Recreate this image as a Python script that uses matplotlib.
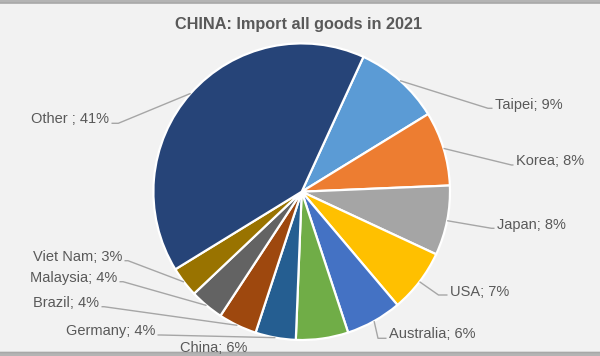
import numpy as np
import matplotlib
matplotlib.use("Agg")
import matplotlib.pyplot as plt
from matplotlib.patches import FancyBboxPatch

# ---- data ----
countries = ["Taipei", "Korea", "Japan", "USA", "Australia", "China",
             "Germany", "Brazil", "Malaysia", "Viet Nam", "Other "]
shares = [9.4, 8.1, 7.6, 6.9, 6.1, 5.7, 4.4, 4.2, 3.7, 3.3, 40.6]
colors = ["#5B9BD5", "#ED7D31", "#A5A5A5", "#FFC000", "#4472C4", "#70AD47",
          "#255E91", "#9E480E", "#636363", "#997300", "#264478"]
title = "CHINA: Import all goods in 2021"

# ---- layout (pixel coords, origin top-left) ----
W, H = 600, 356
CX, CY, R = 301.7, 191.7, 148.3
# label: (text x, baseline y, ha, elbow point or None)
layout = {
    "Taipei":    (495, 108.5, "left",  (488, 108.3)),
    "Korea":     (516, 165.0, "left",  (511.5, 165)),
    "Japan":     (497, 228.5, "left",  (491.5, 228.3)),
    "USA":       (450, 295.5, "left",  (438.5, 295)),
    "Australia": (389, 338.5, "left",  (378, 338.3)),
    "China":     (214, 351.5, "center", None),
    "Germany":   (155, 335.0, "right", (161, 335)),
    "Brazil":    (99, 306.7, "right",  (104, 306.7)),
    "Malaysia":  (117, 281.7, "right", (123, 281.7)),
    "Viet Nam":  (122, 260.7, "right", (128, 260.7)),
    "Other ":    (109, 123.3, "right", (118.3, 123.3)),
}

fig = plt.figure(figsize=(W / 100, H / 100), dpi=100)
fig.patch.set_facecolor("#B4B4B4")
ax = fig.add_axes([0, 0, 1, 1])
ax.set_xlim(0, W)
ax.set_ylim(0, H)
ax.set_aspect("equal")
ax.axis("off")

def Y(y):
    return H - y

bg = FancyBboxPatch((-20, Y(352.5)), 615.5 + 20, 349.5, boxstyle="round,pad=0,rounding_size=9",
                    facecolor="#F2F2F2", edgecolor="#A8A8A8", linewidth=1.2, zorder=0)
ax.add_patch(bg)

start = 90 - 24.6
wedges, _ = ax.pie(shares, colors=colors, startangle=start, counterclock=False,
                   center=(CX, Y(CY)), radius=R, frame=True,
                   wedgeprops=dict(edgecolor="white", linewidth=1.6))
ax.set_xlim(0, W)
ax.set_ylim(0, H)
ax.axis("off")
for w in wedges:
    w.set_zorder(2)

txt_color = "#595959"
line_color = "#A6A6A6"
for w, name, val in zip(wedges, countries, shares):
    tx, ty, ha, elbow = layout[name]
    label = f"{name}; {round(val)}%"
    ax.text(tx, Y(ty), label, ha=ha, va="baseline", fontsize=10.5,
            color=txt_color, family="Liberation Sans", zorder=4)
    if elbow is None:
        continue
    mid = np.deg2rad((w.theta1 + w.theta2) / 2)
    ex, ey = CX + R * np.cos(mid), Y(CY) + R * np.sin(mid)
    if ha == "left":
        endx = tx - 2.5
    else:
        endx = tx + 2.5
    ax.plot([ex, elbow[0], endx], [ey, Y(elbow[1]), Y(elbow[1])],
            color=line_color, linewidth=1.0, zorder=3, solid_capstyle="butt")

ax.text(298.5, Y(28.5), title, ha="center", va="baseline", fontsize=11.7,
        fontweight="bold", color=txt_color, family="Liberation Sans", zorder=4)

fig.savefig("out.png", dpi=100, facecolor=fig.get_facecolor())
